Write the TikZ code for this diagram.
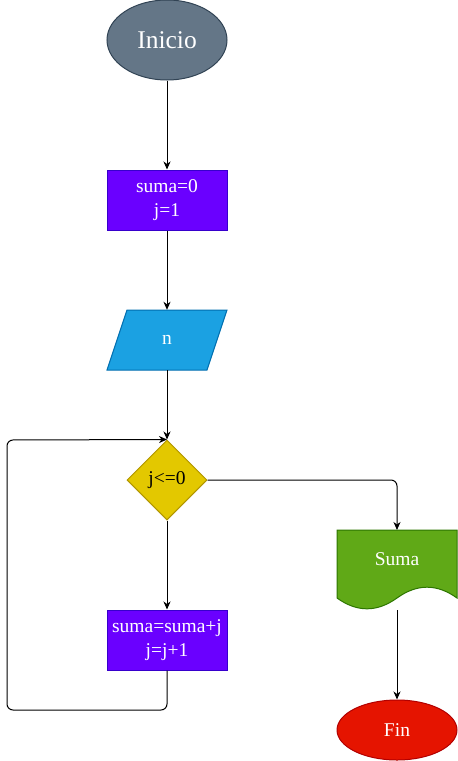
\documentclass[tikz,border=0pt]{standalone}
\usepackage{fontspec}
\setmainfont{Liberation Serif}
\usetikzlibrary{shapes.geometric,arrows.meta}
\definecolor{iniF}{HTML}{647687}\definecolor{iniD}{HTML}{314354}
\definecolor{procF}{HTML}{6A00FF}\definecolor{procD}{HTML}{3700CC}
\definecolor{ioF}{HTML}{1BA1E2}\definecolor{ioD}{HTML}{006EAF}
\definecolor{decF}{HTML}{E3C800}\definecolor{decD}{HTML}{B09500}
\definecolor{docF}{HTML}{60A917}\definecolor{docD}{HTML}{2D7600}
\definecolor{finF}{HTML}{E51400}\definecolor{finD}{HTML}{B20000}
\tikzset{
  txt/.style={font=\fontsize{19.5}{24.5}\selectfont, align=center, text=white},
  procbox/.style={txt, draw=procD, fill=procF, line width=1pt, minimum width=120pt, minimum height=60pt, inner sep=0pt},
  conn/.style={line width=1pt, -{Stealth[length=8pt,width=7pt,inset=2.5pt]}},
  loopline/.style={line width=1pt, rounded corners=6pt},
}
\begin{document}
\begin{tikzpicture}[x=1pt,y=-1pt]
\useasboundingbox (0,0) rectangle (458,761);
% Inicio
\node[ellipse, draw=iniD, fill=iniF, line width=1pt, minimum width=120pt, minimum height=80pt, inner sep=0pt, text=white, font=\fontsize{25.5}{30}\selectfont] (ini) at (167,40) {Inicio};
% suma=0
\node[procbox] (init) at (167,200) {suma=0\\j=1};
% input n
\draw[draw=ioD, fill=ioF, line width=1pt] (127,310) -- (227,310) -- (207,370) -- (107,370) -- cycle;
\node[txt, minimum width=100pt, minimum height=60pt, inner sep=0pt] (inp) at (167,340) {n};
% decision
\node[diamond, draw=decD, fill=decF, line width=1pt, minimum width=80pt, minimum height=80pt, inner sep=0pt, aspect=1, font=\fontsize{19.5}{24.5}\selectfont] (dec) at (167,480) {j<=0};
% loop body
\node[procbox] (body) at (167,640) {suma=suma+j\\j=j+1};
% document
\draw[draw=docD, fill=docF, line width=1pt] (337,530) -- (457,530) -- (457,598)
  .. controls (437,583.6) and (417,583.6) .. (397,598)
  .. controls (377,612.4) and (357,612.4) .. (337,598) -- cycle;
\node[txt, inner sep=0pt] (doc) at (397,559) {Suma};
\coordinate (docTop) at (397,530);
\coordinate (docBot) at (397,610);
% Fin
\node[ellipse, draw=finD, fill=finF, line width=1pt, minimum width=120pt, minimum height=60pt, inner sep=0pt, txt] (fin) at (397,730) {Fin};
% connectors
\draw[conn] (ini.south) -- (init.north);
\draw[conn] (init.south) -- (inp.north);
\draw[conn] (inp.south) -- (dec.north);
\draw[conn] (dec.south) -- (body.north);
\coordinate (lp1) at (167,710);
\coordinate (lp2) at (7,710);
\coordinate (lp3) at (7,440);
\draw[loopline, conn] (body.south) -- (lp1) -- (lp2) -- (lp3) -- (dec.north);
\coordinate (rc) at (397,480);
\draw[loopline, conn] (dec.east) -- (rc) -- (docTop);
\draw[conn] (docBot) -- (fin.north);
\end{tikzpicture}
\end{document}
